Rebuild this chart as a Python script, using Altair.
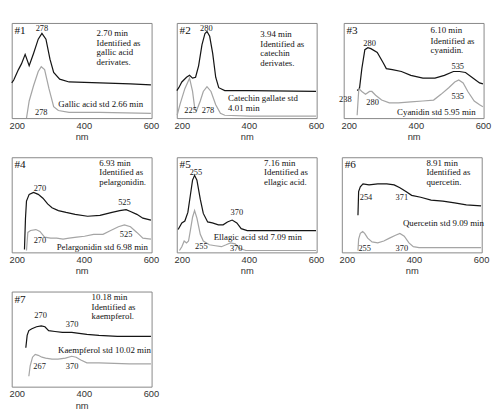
import altair as alt
import pandas as pd

XMIN, XMAX = 185, 602
SERIF = "Liberation Serif"
SANS = "Liberation Sans"
W, H = 150, 102

TAGS = ["#1", "#2", "#3", "#4", "#5", "#6", "#7"]

# ---- Panel 1 ----
P1_BLACK_NM = [185, 191, 205, 214, 225, 237, 250, 264, 275, 287, 299, 310, 328, 356, 448, 539, 600]
P1_BLACK_A = [37, 40, 51, 57, 67, 55, 68, 83, 89, 83, 62, 48, 41, 38, 37, 36, 35]
P1_GRAY_NM = [229, 237, 250, 264, 273, 283, 296, 310, 324, 356, 448, 600]
P1_GRAY_A = [0, 18, 34, 49, 54, 51, 31, 12, 8, 6, 6, 5]
P1_PEAK_NM = [275, 273]
P1_PEAK_A = [95, 6]
P1_PEAK_TXT = ["278", "278"]
P1_INFO_NM = [438, 438, 438, 438, 324]
P1_INFO_A = [89, 79, 69, 59, 15]
P1_INFO_TXT = ["2.70 min", "Identified as", "gallic acid", "derivates.", "Gallic acid std 2.66 min"]

# ---- Panel 2 ----
P2_BLACK_NM = [185, 191, 200, 214, 223, 232, 241, 250, 260, 269, 275, 283, 292, 301, 310, 328, 402, 600]
P2_BLACK_A = [29, 32, 38, 43, 45, 42, 43, 55, 77, 89, 91, 86, 68, 43, 32, 29, 29, 28]
P2_GRAY_NM = [186, 195, 209, 223, 232, 239, 244, 255, 264, 275, 287, 301, 315, 328, 402, 600]
P2_GRAY_A = [3, 15, 31, 42, 28, 9, 8, 18, 28, 33, 28, 14, 5, 3, 2, 2]
P2_PEAK_NM = [273, 226, 278]
P2_PEAK_A = [95, 8, 8]
P2_PEAK_TXT = ["280", "225", "278"]
P2_INFO_NM = [434, 434, 434, 434, 338, 338]
P2_INFO_A = [88, 78, 68, 58, 21, 10]
P2_INFO_TXT = ["3.94 min", "Identified as", "catechin", "derivates.", "Catechin gallate std", "4.01 min"]

# ---- Panel 3 ----
P3_BLACK_NM = [225, 232, 239, 248, 257, 266, 285, 303, 312, 330, 357, 385, 421, 457, 485, 512, 530, 548, 571, 590, 600]
P3_BLACK_A = [29, 31, 52, 72, 74, 73, 69, 58, 52, 51, 49, 45, 42, 42, 45, 49, 49, 48, 42, 37, 36]
P3_GRAY_NM = [225, 230, 239, 250, 262, 269, 280, 298, 321, 348, 385, 421, 453, 475, 498, 516, 528, 541, 555, 574, 590, 600]
P3_GRAY_A = [3, 31, 28, 25, 28, 28, 24, 19, 16, 16, 17, 18, 19, 25, 32, 38, 40, 37, 28, 18, 14, 12]
P3_PEAK_NM = [262, 525, 525, 190, 271]
P3_PEAK_A = [79, 55, 23, 20, 17]
P3_PEAK_TXT = ["280", "535", "535", "238", "280"]
P3_INFO_NM = [444, 444, 444, 344]
P3_INFO_A = [92, 81, 71, 6]
P3_INFO_TXT = ["6.10 min", "Identified as", "cyanidin.", "Cyanidin std 5.95 min"]

# ---- Panel 4 ----
P4_BLACK_NM = [223, 226, 229, 237, 250, 264, 278, 292, 305, 324, 347, 374, 411, 448, 484, 507, 526, 539, 558, 576, 600]
P4_BLACK_A = [3, 36, 54, 61, 63, 61, 57, 51, 47, 44, 42, 40, 38, 39, 42, 44, 45, 43, 40, 36, 34]
P4_GRAY_NM = [229, 233, 241, 257, 269, 283, 301, 319, 338, 356, 379, 402, 429, 457, 480, 503, 521, 539, 558, 576, 600]
P4_GRAY_A = [2, 21, 23, 24, 22, 16, 15, 15, 14, 15, 16, 17, 19, 19, 23, 27, 29, 27, 21, 15, 14]
P4_PEAK_NM = [269, 521, 269, 526]
P4_PEAK_A = [67, 53, 13, 19]
P4_PEAK_TXT = ["270", "525", "270", "525"]
P4_INFO_NM = [446, 446, 446, 319]
P4_INFO_A = [94, 84, 74, 5]
P4_INFO_TXT = ["6.93 min", "Identified as", "pelargonidin.", "Pelargonidin std 6.98 min"]

# ---- Panel 5 ----
P5_BLACK_NM = [189, 200, 209, 218, 225, 232, 238, 245, 255, 264, 277, 291, 309, 323, 336, 350, 364, 377, 395, 445, 536, 600]
P5_BLACK_A = [24, 31, 33, 42, 59, 76, 81, 76, 56, 41, 32, 31, 29, 29, 32, 34, 31, 25, 23, 23, 23, 23]
P5_GRAY_NM = [193, 200, 207, 214, 220, 225, 232, 238, 245, 255, 264, 282, 300, 318, 332, 345, 359, 373, 391, 445, 600]
P5_GRAY_A = [2, 6, 12, 10, 12, 22, 37, 44, 36, 19, 12, 8, 7, 6, 8, 10, 9, 4, 2, 2, 2]
P5_PEAK_NM = [242, 364, 258, 362]
P5_PEAK_A = [84, 42, 6, 4]
P5_PEAK_TXT = ["255", "370", "255", "370"]
P5_INFO_NM = [445, 445, 445, 295]
P5_INFO_A = [94, 84, 74, 16]
P5_INFO_TXT = ["7.16 min", "Identified as", "ellagic acid.", "Ellagic acid std 7.09 min"]

# ---- Panel 6 ----
P6_BLACK_NM = [233, 235, 240, 248, 266, 292, 319, 341, 358, 376, 393, 420, 451, 486, 521, 556, 600]
P6_BLACK_A = [39, 64, 69, 72, 71, 72, 72, 71, 68, 64, 60, 58, 55, 54, 52, 50, 49]
P6_GRAY_NM = [233, 235, 240, 247, 253, 262, 275, 292, 310, 327, 345, 358, 371, 385, 398, 415, 477, 600]
P6_GRAY_A = [2, 14, 20, 22, 20, 15, 11, 10, 12, 15, 18, 20, 17, 10, 6, 5, 5, 5]
P6_PEAK_NM = [257, 364, 253, 364]
P6_PEAK_A = [58, 58, 4, 4]
P6_PEAK_TXT = ["254", "371", "255", "370"]
P6_INFO_NM = [437, 437, 437, 367]
P6_INFO_A = [94, 84, 74, 31]
P6_INFO_TXT = ["8.91 min", "Identified as", "quercetin.", "Quercetin std 9.09 min"]

# ---- Panel 7 ----
P7_BLACK_NM = [227, 231, 236, 245, 259, 273, 284, 295, 314, 336, 364, 386, 409, 445, 500, 564, 600]
P7_BLACK_A = [41, 54, 59, 61, 63, 64, 63, 59, 58, 57, 57, 56, 55, 54, 53, 53, 53]
P7_GRAY_NM = [236, 240, 247, 255, 264, 275, 286, 305, 323, 345, 364, 377, 391, 409, 445, 536, 600]
P7_GRAY_A = [11, 22, 31, 34, 33, 31, 30, 29, 29, 30, 32, 31, 28, 25, 25, 24, 24]
P7_PEAK_NM = [271, 365, 268, 365]
P7_PEAK_A = [75, 66, 22, 22]
P7_PEAK_TXT = ["270", "370", "267", "370"]
P7_INFO_NM = [423, 423, 423, 323]
P7_INFO_A = [94, 84, 74, 38]
P7_INFO_TXT = ["10.18 min", "Identified as", "kaempferol.", "Kaempferol std 10.02 min"]


def xenc():
    return alt.X("nm:Q",
                 scale=alt.Scale(domain=[XMIN, XMAX], nice=False, zero=False),
                 axis=alt.Axis(values=[200, 400, 600], title="nm", grid=False,
                               domain=False, ticks=False, labelFlush=False, format="d"))


def yenc():
    return alt.Y("a:Q", scale=alt.Scale(domain=[0, 100], nice=False, zero=False), axis=None)


def panel(tag, bnm, ba, gnm, ga, pnm, pa, ptxt, inm, ia, itxt):
    black = alt.Chart(pd.DataFrame({"nm": bnm, "a": ba})).mark_line(
        color="#151515", strokeWidth=1.3).encode(x=xenc(), y=yenc())
    gray = alt.Chart(pd.DataFrame({"nm": gnm, "a": ga})).mark_line(
        color="#a5a5a5", strokeWidth=1.3).encode(x=xenc(), y=yenc())
    peaks = alt.Chart(pd.DataFrame({"nm": pnm, "a": pa, "t": ptxt})).mark_text(
        font=SERIF, fontSize=9, fill="#202020", baseline="middle").encode(
        x=xenc(), y=yenc(), text="t:N")
    info = alt.Chart(pd.DataFrame({"nm": inm, "a": ia, "t": itxt})).mark_text(
        font=SERIF, fontSize=9.5, fill="#111111", align="left", baseline="middle").encode(
        x=xenc(), y=yenc(), text="t:N")
    tagc = alt.Chart(pd.DataFrame({"t": [tag]})).mark_text(
        font=SERIF, fontSize=12, fill="#111111", align="left", baseline="middle").encode(
        x=alt.value(3), y=alt.value(8), text="t:N")
    return alt.layer(black, gray, peaks, info, tagc).properties(width=W, height=H)


p1 = panel(TAGS[0], P1_BLACK_NM, P1_BLACK_A, P1_GRAY_NM, P1_GRAY_A, P1_PEAK_NM, P1_PEAK_A, P1_PEAK_TXT, P1_INFO_NM, P1_INFO_A, P1_INFO_TXT)
p2 = panel(TAGS[1], P2_BLACK_NM, P2_BLACK_A, P2_GRAY_NM, P2_GRAY_A, P2_PEAK_NM, P2_PEAK_A, P2_PEAK_TXT, P2_INFO_NM, P2_INFO_A, P2_INFO_TXT)
p3 = panel(TAGS[2], P3_BLACK_NM, P3_BLACK_A, P3_GRAY_NM, P3_GRAY_A, P3_PEAK_NM, P3_PEAK_A, P3_PEAK_TXT, P3_INFO_NM, P3_INFO_A, P3_INFO_TXT)
p4 = panel(TAGS[3], P4_BLACK_NM, P4_BLACK_A, P4_GRAY_NM, P4_GRAY_A, P4_PEAK_NM, P4_PEAK_A, P4_PEAK_TXT, P4_INFO_NM, P4_INFO_A, P4_INFO_TXT)
p5 = panel(TAGS[4], P5_BLACK_NM, P5_BLACK_A, P5_GRAY_NM, P5_GRAY_A, P5_PEAK_NM, P5_PEAK_A, P5_PEAK_TXT, P5_INFO_NM, P5_INFO_A, P5_INFO_TXT)
p6 = panel(TAGS[5], P6_BLACK_NM, P6_BLACK_A, P6_GRAY_NM, P6_GRAY_A, P6_PEAK_NM, P6_PEAK_A, P6_PEAK_TXT, P6_INFO_NM, P6_INFO_A, P6_INFO_TXT)
p7 = panel(TAGS[6], P7_BLACK_NM, P7_BLACK_A, P7_GRAY_NM, P7_GRAY_A, P7_PEAK_NM, P7_PEAK_A, P7_PEAK_TXT, P7_INFO_NM, P7_INFO_A, P7_INFO_TXT)

row1 = alt.hconcat(p1, p2, p3, spacing=14)
row2 = alt.hconcat(p4, p5, p6, spacing=14)
row3 = alt.hconcat(p7, spacing=14)

chart = alt.vconcat(row1, row2, row3, spacing=15).properties(
    padding=0, background="white"
).configure_view(
    stroke="#808080", strokeWidth=1
).configure_axis(
    labelFont=SANS, labelFontSize=10, labelColor="#333333", labelPadding=3,
    titleFont=SANS, titleFontSize=10, titleFontWeight="normal", titleColor="#333333",
    titlePadding=2
)

chart.save("out.html", embed_options={"renderer": "svg", "actions": False})
